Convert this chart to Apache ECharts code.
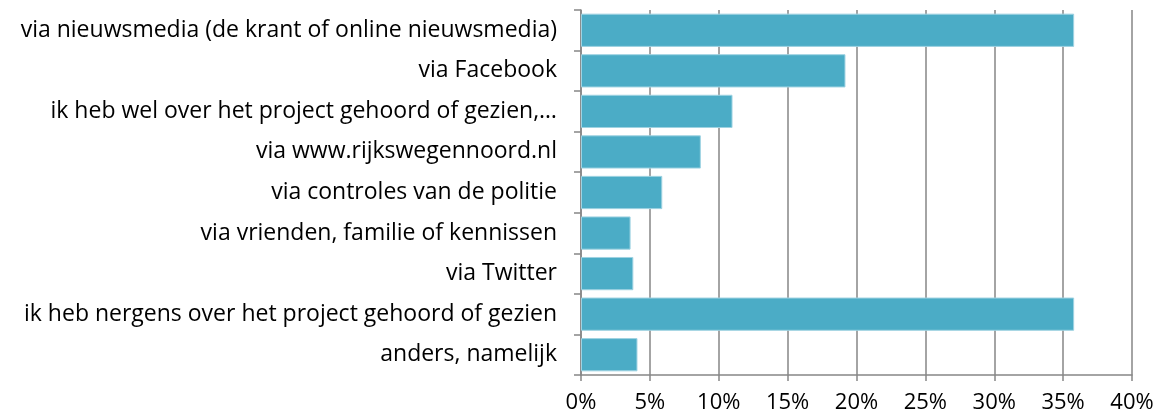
<!DOCTYPE html>
<html>
<head>
<meta charset="utf-8">
<script src="https://cdn.jsdelivr.net/npm/echarts@6/dist/echarts.min.js"></script>
<style>
  html, body { margin: 0; padding: 0; background: #fff; }
  #main { width: 1164px; height: 419px; }
</style>
</head>
<body>
<div id="main"></div>
<script>
// categories, top to bottom as in the picture
var categories = [
    'via nieuwsmedia (de krant of online nieuwsmedia)',
    'via Facebook',
    'ik heb wel over het project gehoord of gezien,…',
    'via www.rijkswegennoord.nl',
    'via controles van de politie',
    'via vrienden, familie of kennissen',
    'via Twitter',
    'ik heb nergens over het project gehoord of gezien',
    'anders, namelijk'
];
// percentages
var values = [35.8, 19.2, 11.0, 8.7, 5.9, 3.6, 3.8, 35.8, 4.1];
var xTicks = [0, 5, 10, 15, 20, 25, 30, 35, 40];

var myChart = echarts.init(document.getElementById('main'));

var axisGrey = '#868686';

var option = {
    animation: false,
    grid: { left: 581, right: 32, top: 10, bottom: 44, containLabel: false },
    xAxis: {
        type: 'value',
        min: xTicks[0],
        max: xTicks[xTicks.length - 1],
        interval: 5,
        axisLine: { show: true, lineStyle: { color: axisGrey, width: 1.5 } },
        axisTick: { show: true, length: 6, lineStyle: { color: axisGrey, width: 1.5 } },
        splitLine: { show: true, lineStyle: { color: axisGrey, width: 1.5 } },
        axisLabel: {
            formatter: '{value}%',
            fontFamily: 'Open Sans',
            fontSize: 22,
            color: '#000',
            margin: 17
        }
    },
    yAxis: {
        type: 'category',
        inverse: true,
        data: categories,
        axisLine: { show: true, lineStyle: { color: axisGrey, width: 1.5 } },
        axisTick: { show: true, length: 7, lineStyle: { color: axisGrey, width: 1.5 } },
        axisLabel: {
            fontFamily: 'Open Sans',
            fontSize: 23,
            color: '#000',
            margin: 24
        }
    },
    series: [{
        type: 'bar',
        data: values,
        barCategoryGap: '18%',
        itemStyle: { color: '#4BACC6', borderColor: '#9fd3e2', borderWidth: 1 }
    }]
};

myChart.setOption(option);
</script>
</body>
</html>
